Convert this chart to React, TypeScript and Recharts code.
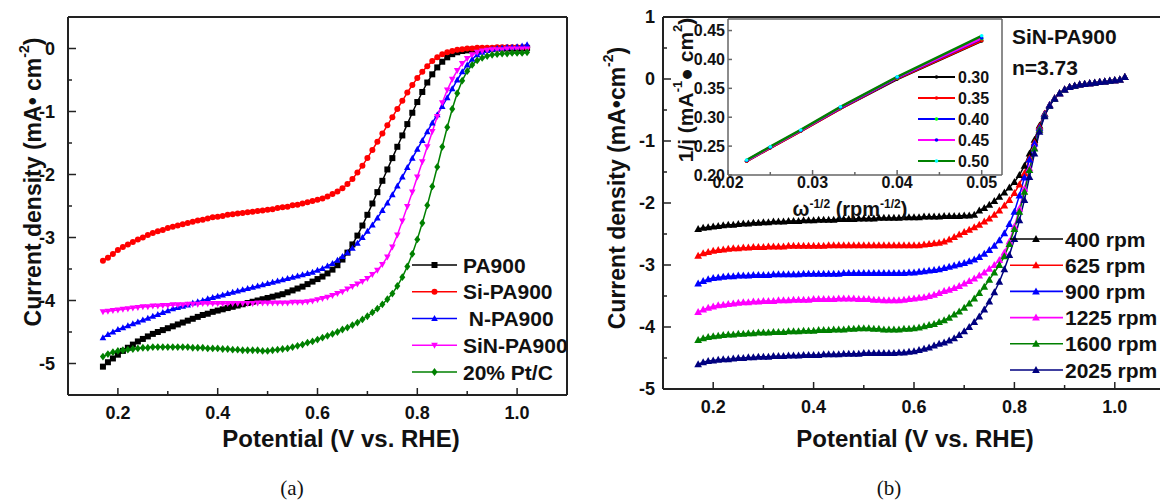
import React from 'react';
import { LineChart, Line, XAxis, YAxis, ReferenceLine, Legend, Label } from 'recharts';

const FONT = '"Liberation Sans", Arial, Helvetica, sans-serif';
const SERIF = '"Liberation Serif", "Times New Roman", serif';

// ---------------- Panel (a): LSV curves ----------------
const potential = [
  0.17, 0.18, 0.19, 0.20, 0.21, 0.22, 0.23, 0.24, 0.25, 0.26,
  0.27, 0.28, 0.29, 0.30, 0.31, 0.32, 0.33, 0.34, 0.35, 0.36,
  0.37, 0.38, 0.39, 0.40, 0.41, 0.42, 0.43, 0.44, 0.45, 0.46,
  0.47, 0.48, 0.49, 0.50, 0.51, 0.52, 0.53, 0.54, 0.55, 0.56,
  0.57, 0.58, 0.59, 0.60, 0.61, 0.62, 0.63, 0.64, 0.65, 0.66,
  0.67, 0.68, 0.69, 0.70, 0.71, 0.72, 0.73, 0.74, 0.75, 0.76,
  0.77, 0.78, 0.79, 0.80, 0.81, 0.82, 0.83, 0.84, 0.85, 0.86,
  0.87, 0.88, 0.89, 0.90, 0.91, 0.92, 0.93, 0.94, 0.95, 0.96,
  0.97, 0.98, 0.99, 1.00, 1.01, 1.02,
];

const pa900 = [
  -5.05, -4.98, -4.92, -4.86, -4.80, -4.75, -4.70, -4.65, -4.61, -4.57,
  -4.53, -4.50, -4.47, -4.44, -4.41, -4.38, -4.35, -4.32, -4.29, -4.26,
  -4.23, -4.21, -4.18, -4.16, -4.14, -4.12, -4.10, -4.08, -4.06, -4.04,
  -4.02, -4.00, -3.98, -3.96, -3.94, -3.92, -3.90, -3.87, -3.84, -3.81,
  -3.78, -3.74, -3.70, -3.66, -3.62, -3.57, -3.51, -3.44, -3.35, -3.24,
  -3.11, -2.97, -2.81, -2.64, -2.46, -2.28, -2.10, -1.92, -1.74, -1.56,
  -1.38, -1.20, -1.02, -0.85, -0.69, -0.54, -0.41, -0.30, -0.21, -0.14,
  -0.09, -0.06, -0.04, -0.03, -0.02, -0.02, -0.01, -0.01, -0.01, 0.00,
  0.00, 0.00, 0.00, 0.00, 0.00, 0.01,
];

const siPa900 = [
  -3.37, -3.32, -3.26, -3.20, -3.15, -3.11, -3.07, -3.03, -3.00, -2.96,
  -2.93, -2.90, -2.88, -2.85, -2.83, -2.81, -2.79, -2.77, -2.75, -2.73,
  -2.72, -2.70, -2.68, -2.67, -2.66, -2.64, -2.63, -2.62, -2.61, -2.60,
  -2.59, -2.58, -2.57, -2.56, -2.55, -2.53, -2.52, -2.51, -2.49, -2.48,
  -2.46, -2.44, -2.42, -2.40, -2.38, -2.35, -2.31, -2.27, -2.22, -2.15,
  -2.07, -1.97, -1.86, -1.74, -1.61, -1.48, -1.35, -1.22, -1.09, -0.96,
  -0.83, -0.70, -0.58, -0.47, -0.37, -0.28, -0.20, -0.14, -0.09, -0.06,
  -0.04, -0.02, -0.01, 0.00, 0.00, 0.01, 0.01, 0.01, 0.01, 0.02,
  0.02, 0.02, 0.02, 0.02, 0.02, 0.02,
];

const nPa900 = [
  -4.59, -4.54, -4.50, -4.46, -4.43, -4.40, -4.37, -4.34, -4.31, -4.28,
  -4.25, -4.22, -4.19, -4.16, -4.13, -4.11, -4.09, -4.07, -4.04, -4.02,
  -4.00, -3.97, -3.95, -3.93, -3.91, -3.89, -3.87, -3.85, -3.83, -3.81,
  -3.79, -3.77, -3.75, -3.73, -3.71, -3.69, -3.67, -3.65, -3.63, -3.61,
  -3.59, -3.57, -3.55, -3.52, -3.49, -3.45, -3.41, -3.36, -3.30, -3.24,
  -3.17, -3.09, -3.00, -2.90, -2.80, -2.69, -2.57, -2.45, -2.32, -2.18,
  -2.04, -1.89, -1.74, -1.60, -1.46, -1.32, -1.18, -1.05, -0.92, -0.78,
  -0.64, -0.50, -0.37, -0.26, -0.17, -0.10, -0.06, -0.03, -0.01, 0.00,
  0.01, 0.02, 0.02, 0.03, 0.04, 0.06,
];

const sinPa900 = [
  -4.18, -4.17, -4.16, -4.15, -4.14, -4.13, -4.12, -4.11, -4.10, -4.10,
  -4.09, -4.09, -4.08, -4.08, -4.07, -4.07, -4.07, -4.06, -4.06, -4.06,
  -4.05, -4.05, -4.05, -4.05, -4.05, -4.05, -4.05, -4.05, -4.05, -4.05,
  -4.05, -4.04, -4.04, -4.04, -4.04, -4.04, -4.04, -4.04, -4.03, -4.03,
  -4.03, -4.02, -4.01, -3.99, -3.97, -3.95, -3.92, -3.89, -3.86, -3.82,
  -3.78, -3.74, -3.70, -3.65, -3.59, -3.52, -3.43, -3.31, -3.15, -2.96,
  -2.74, -2.51, -2.28, -2.04, -1.80, -1.56, -1.32, -1.08, -0.86, -0.66,
  -0.49, -0.35, -0.24, -0.16, -0.10, -0.06, -0.04, -0.03, -0.02, -0.02,
  -0.02, -0.01, -0.01, -0.01, -0.01, -0.01,
];

const ptC = [
  -4.89, -4.85, -4.82, -4.80, -4.79, -4.78, -4.77, -4.76, -4.75, -4.75,
  -4.74, -4.74, -4.74, -4.74, -4.74, -4.74, -4.74, -4.74, -4.75, -4.75,
  -4.75, -4.76, -4.76, -4.76, -4.77, -4.77, -4.78, -4.78, -4.79, -4.79,
  -4.79, -4.79, -4.80, -4.80, -4.79, -4.78, -4.77, -4.76, -4.74, -4.72,
  -4.70, -4.67, -4.65, -4.62, -4.59, -4.56, -4.53, -4.50, -4.46, -4.43,
  -4.39, -4.35, -4.30, -4.25, -4.19, -4.13, -4.06, -3.98, -3.89, -3.77,
  -3.63, -3.46, -3.26, -3.03, -2.77, -2.49, -2.19, -1.88, -1.56, -1.25,
  -0.96, -0.71, -0.51, -0.36, -0.26, -0.19, -0.15, -0.12, -0.10, -0.09,
  -0.08, -0.08, -0.07, -0.07, -0.07, -0.06,
];

// ---------------- Panel (b): rotation-rate LSV curves ----------------
const rpm400 = [
  -2.42, -2.40, -2.39, -2.38, -2.37, -2.36, -2.35, -2.35, -2.34, -2.33,
  -2.33, -2.32, -2.32, -2.31, -2.31, -2.30, -2.30, -2.30, -2.29, -2.29,
  -2.29, -2.28, -2.28, -2.28, -2.27, -2.27, -2.27, -2.27, -2.26, -2.26,
  -2.26, -2.26, -2.25, -2.25, -2.25, -2.25, -2.24, -2.24, -2.24, -2.24,
  -2.24, -2.23, -2.23, -2.23, -2.23, -2.22, -2.22, -2.22, -2.22, -2.21,
  -2.21, -2.21, -2.21, -2.20, -2.20, -2.19, -2.12, -2.08, -2.03, -1.97,
  -1.90, -1.83, -1.75, -1.66, -1.55, -1.40, -1.20, -0.98, -0.75, -0.56,
  -0.42, -0.31, -0.23, -0.17, -0.13, -0.11, -0.09, -0.08, -0.07, -0.06,
  -0.05, -0.04, -0.03, -0.02, -0.01, 0.03,
];

const rpm625 = [
  -2.85, -2.81, -2.79, -2.77, -2.76, -2.75, -2.74, -2.73, -2.73, -2.72,
  -2.72, -2.71, -2.71, -2.71, -2.70, -2.70, -2.70, -2.70, -2.69, -2.69,
  -2.69, -2.69, -2.69, -2.69, -2.69, -2.69, -2.68, -2.68, -2.68, -2.68,
  -2.68, -2.68, -2.68, -2.68, -2.68, -2.68, -2.68, -2.68, -2.68, -2.68,
  -2.68, -2.68, -2.68, -2.68, -2.68, -2.67, -2.66, -2.65, -2.64, -2.62,
  -2.59, -2.55, -2.51, -2.47, -2.43, -2.39, -2.35, -2.30, -2.25, -2.19,
  -2.12, -2.04, -1.95, -1.84, -1.70, -1.52, -1.28, -1.02, -0.77, -0.56,
  -0.42, -0.31, -0.23, -0.17, -0.13, -0.11, -0.09, -0.08, -0.07, -0.06,
  -0.05, -0.04, -0.03, -0.02, -0.01, 0.03,
];

const rpm900 = [
  -3.30, -3.26, -3.23, -3.21, -3.20, -3.19, -3.18, -3.18, -3.17, -3.17,
  -3.17, -3.16, -3.16, -3.16, -3.16, -3.15, -3.15, -3.15, -3.15, -3.15,
  -3.15, -3.14, -3.14, -3.14, -3.14, -3.14, -3.14, -3.14, -3.14, -3.13,
  -3.13, -3.13, -3.13, -3.13, -3.13, -3.13, -3.13, -3.13, -3.13, -3.13,
  -3.13, -3.13, -3.12, -3.12, -3.11, -3.10, -3.09, -3.08, -3.07, -3.05,
  -3.03, -3.01, -2.99, -2.97, -2.94, -2.91, -2.87, -2.82, -2.76, -2.69,
  -2.60, -2.49, -2.34, -2.14, -1.88, -1.59, -1.30, -1.04, -0.79, -0.57,
  -0.42, -0.31, -0.23, -0.17, -0.13, -0.11, -0.09, -0.08, -0.07, -0.06,
  -0.05, -0.04, -0.03, -0.02, -0.01, 0.03,
];

const rpm1225 = [
  -3.76, -3.72, -3.69, -3.67, -3.65, -3.64, -3.63, -3.62, -3.61, -3.60,
  -3.60, -3.59, -3.59, -3.58, -3.58, -3.58, -3.57, -3.57, -3.57, -3.56,
  -3.56, -3.56, -3.56, -3.55, -3.55, -3.55, -3.55, -3.55, -3.54, -3.54,
  -3.54, -3.54, -3.55, -3.55, -3.55, -3.56, -3.56, -3.57, -3.57, -3.57,
  -3.57, -3.56, -3.55, -3.54, -3.53, -3.52, -3.50, -3.48, -3.45, -3.42,
  -3.40, -3.37, -3.34, -3.30, -3.26, -3.22, -3.17, -3.12, -3.06, -3.00,
  -2.92, -2.80, -2.62, -2.38, -2.09, -1.77, -1.44, -1.11, -0.82, -0.59,
  -0.43, -0.32, -0.23, -0.17, -0.13, -0.11, -0.09, -0.08, -0.07, -0.06,
  -0.05, -0.04, -0.03, -0.02, -0.01, 0.03,
];

const rpm1600 = [
  -4.21, -4.18, -4.16, -4.15, -4.14, -4.13, -4.12, -4.12, -4.11, -4.11,
  -4.10, -4.10, -4.09, -4.09, -4.09, -4.08, -4.08, -4.08, -4.07, -4.07,
  -4.07, -4.06, -4.06, -4.06, -4.05, -4.05, -4.05, -4.04, -4.04, -4.04,
  -4.03, -4.03, -4.02, -4.02, -4.02, -4.03, -4.03, -4.04, -4.04, -4.04,
  -4.04, -4.03, -4.03, -4.02, -4.01, -3.99, -3.97, -3.95, -3.92, -3.89,
  -3.85, -3.80, -3.75, -3.69, -3.62, -3.54, -3.45, -3.35, -3.24, -3.12,
  -3.00, -2.86, -2.66, -2.42, -2.14, -1.82, -1.47, -1.12, -0.82, -0.59,
  -0.43, -0.32, -0.23, -0.17, -0.13, -0.11, -0.09, -0.08, -0.07, -0.06,
  -0.05, -0.04, -0.03, -0.02, -0.01, 0.03,
];

const rpm2025 = [
  -4.60, -4.57, -4.55, -4.54, -4.53, -4.52, -4.52, -4.51, -4.50, -4.50,
  -4.49, -4.49, -4.48, -4.48, -4.48, -4.47, -4.47, -4.47, -4.46, -4.46,
  -4.46, -4.45, -4.45, -4.45, -4.45, -4.44, -4.44, -4.44, -4.44, -4.43,
  -4.43, -4.43, -4.43, -4.42, -4.42, -4.42, -4.42, -4.42, -4.42, -4.42,
  -4.41, -4.41, -4.40, -4.39, -4.37, -4.35, -4.33, -4.30, -4.27, -4.25,
  -4.22, -4.18, -4.13, -4.07, -4.00, -3.92, -3.83, -3.72, -3.59, -3.44,
  -3.27, -3.07, -2.84, -2.58, -2.28, -1.95, -1.58, -1.20, -0.85, -0.60,
  -0.43, -0.32, -0.23, -0.17, -0.13, -0.11, -0.09, -0.08, -0.07, -0.06,
  -0.05, -0.04, -0.03, -0.02, -0.01, 0.03,
];

// ---------------- Inset: Koutecky-Levich ----------------
const omegaInv = [0.0222, 0.025, 0.0286, 0.0333, 0.04, 0.05];
const kl030 = [0.224, 0.247, 0.276, 0.315, 0.366, 0.432];
const kl035 = [0.224, 0.247, 0.276, 0.315, 0.367, 0.433];
const kl040 = [0.225, 0.248, 0.277, 0.316, 0.368, 0.436];
const kl045 = [0.225, 0.248, 0.277, 0.317, 0.369, 0.437];
const kl050 = [0.226, 0.249, 0.278, 0.318, 0.370, 0.441];

// ---------------- Ticks ----------------
const mainXTicks = [0.2, 0.3, 0.4, 0.5, 0.6, 0.7, 0.8, 0.9, 1.0];
const mainXLabels = [0.2, 0.4, 0.6, 0.8, 1.0];
const yTicksA = [-5, -4.5, -4, -3.5, -3, -2.5, -2, -1.5, -1, -0.5, 0];
const yLabelsA = [-5, -4, -3, -2, -1, 0];
const yTicksB = [-5, -4.5, -4, -3.5, -3, -2.5, -2, -1.5, -1, -0.5, 0, 0.5, 1];
const yLabelsB = [-5, -4, -3, -2, -1, 0, 1];
const insetXTicks = [0.02, 0.025, 0.03, 0.035, 0.04, 0.045, 0.05];
const insetXLabels = [0.02, 0.03, 0.04, 0.05];
const insetYTicks = [0.2, 0.25, 0.3, 0.35, 0.4, 0.45];

// ---------------- Series meta ----------------
const seriesA = [
  { key: 'PA900', name: 'PA900', color: '#000000', shape: 'square' },
  { key: 'SiPA900', name: 'Si-PA900', color: '#ff0000', shape: 'circle' },
  { key: 'NPA900', name: ' N-PA900', color: '#0000ff', shape: 'triUp' },
  { key: 'SiNPA900', name: 'SiN-PA900', color: '#ff00ff', shape: 'triDown' },
  { key: 'PtC', name: '20% Pt/C', color: '#008000', shape: 'diamond' },
];
const seriesB = [
  { key: 'r400', name: '400 rpm', color: '#000000' },
  { key: 'r625', name: '625 rpm', color: '#ff0000' },
  { key: 'r900', name: '900 rpm', color: '#0000ff' },
  { key: 'r1225', name: '1225 rpm', color: '#ff00ff' },
  { key: 'r1600', name: '1600 rpm', color: '#008000' },
  { key: 'r2025', name: '2025 rpm', color: '#000080' },
];
const seriesInset = [
  { key: 'p30', name: '0.30', color: '#000000', mark: '#000000' },
  { key: 'p35', name: '0.35', color: '#ff0000', mark: '#ff0000' },
  { key: 'p40', name: '0.40', color: '#0000ff', mark: '#00ff00' },
  { key: 'p45', name: '0.45', color: '#ff00ff', mark: '#0000ff' },
  { key: 'p50', name: '0.50', color: '#008000', mark: '#00ffff' },
];

const dataA = potential.map((v, i) => ({
  v, PA900: pa900[i], SiPA900: siPa900[i], NPA900: nPa900[i], SiNPA900: sinPa900[i], PtC: ptC[i],
}));
const dataB = potential.map((v, i) => ({
  v, r400: rpm400[i], r625: rpm625[i], r900: rpm900[i], r1225: rpm1225[i], r1600: rpm1600[i], r2025: rpm2025[i],
}));
const dataInset = omegaInv.map((w, i) => ({
  w, p30: kl030[i], p35: kl035[i], p40: kl040[i], p45: kl045[i], p50: kl050[i],
}));

// ---------------- Helpers ----------------
function Marker({ shape, cx, cy, size, fill }: any) {
  const h = size / 2;
  switch (shape) {
    case 'square':
      return <rect x={cx - h} y={cy - h} width={size} height={size} fill={fill} />;
    case 'circle':
      return <circle cx={cx} cy={cy} r={h} fill={fill} />;
    case 'triUp':
      return <polygon points={`${cx},${cy - h * 1.15} ${cx - h * 1.1},${cy + h * 0.85} ${cx + h * 1.1},${cy + h * 0.85}`} fill={fill} />;
    case 'triDown':
      return <polygon points={`${cx},${cy + h * 1.15} ${cx - h * 1.1},${cy - h * 0.85} ${cx + h * 1.1},${cy - h * 0.85}`} fill={fill} />;
    case 'diamond':
      return <polygon points={`${cx},${cy - h * 1.3} ${cx + h},${cy} ${cx},${cy + h * 1.3} ${cx - h},${cy}`} fill={fill} />;
    default:
      return <circle cx={cx} cy={cy} r={h} fill={fill} />;
  }
}

const makeDot = (shape: string, fill: string, size: number) => (p: any) => {
  if (p.cx == null || p.cy == null) return <g key={`e-${p.index}`} />;
  return <Marker key={`m-${p.index}`} shape={shape} cx={p.cx} cy={p.cy} size={size} fill={fill} />;
};

const isIn = (arr: number[], v: number) => arr.some((a) => Math.abs(a - v) < 1e-9);

const makeXTick = (labels: number[], digits: number, maj: number, min: number, dy: number, fs: number, color: string) =>
  (props: any) => {
    const { x, y, payload } = props;
    const v = payload.value;
    const major = isIn(labels, v);
    return (
      <g>
        <line x1={x} x2={x} y1={y} y2={y - (major ? maj : min)} stroke={color} strokeWidth={1.5} />
        {major && (
          <text x={x} y={y + dy} textAnchor="middle" fontSize={fs} fontWeight="bold" fontFamily={FONT} fill="#111">
            {v.toFixed(digits)}
          </text>
        )}
      </g>
    );
  };

const makeYTick = (labels: number[], fmt: (v: number) => string, maj: number, min: number, gap: number, fs: number, color: string) =>
  (props: any) => {
    const { x, y, payload } = props;
    const v = payload.value;
    const major = isIn(labels, v);
    return (
      <g>
        <line x1={x} x2={x + (major ? maj : min)} y1={y} y2={y} stroke={color} strokeWidth={1.5} />
        {major && (
          <text x={x - gap} y={y + fs * 0.36} textAnchor="end" fontSize={fs} fontWeight="bold" fontFamily={FONT} fill="#111">
            {fmt(v)}
          </text>
        )}
      </g>
    );
  };

const intFmt = (v: number) => String(Math.round(v));

// ---------------- Legends ----------------
const legendA = () => (
  <svg width={175} height={140} style={{ overflow: 'visible' }}>
    {seriesA.map((s, i) => {
      const y = 13 + i * 26.75;
      return (
        <g key={s.key}>
          <line x1={7} x2={52} y1={y} y2={y} stroke={s.color} strokeWidth={1.6} />
          <Marker shape={s.shape} cx={29.5} cy={y} size={6} fill={s.color} />
          <text x={58} y={y + 7.5} fontSize={21} fontWeight="bold" fontFamily={FONT} fill="#111" xmlSpace="preserve" style={{ whiteSpace: 'pre' }}>
            {s.name}
          </text>
        </g>
      );
    })}
  </svg>
);

const legendB = () => (
  <svg width={170} height={160} style={{ overflow: 'visible' }}>
    {seriesB.map((s, i) => {
      const y = 13 + i * 26.2;
      return (
        <g key={s.key}>
          <line x1={5} x2={58} y1={y} y2={y} stroke={s.color} strokeWidth={1.6} />
          <Marker shape="triUp" cx={31} cy={y} size={7} fill={s.color} />
          <text x={60} y={y + 7.5} fontSize={21} fontWeight="bold" fontFamily={FONT} fill="#111">
            {s.name}
          </text>
        </g>
      );
    })}
  </svg>
);

const legendInset = () => (
  <svg width={90} height={110} style={{ overflow: 'visible' }}>
    {seriesInset.map((s, i) => {
      const y = 11 + i * 21;
      return (
        <g key={s.key}>
          <line x1={6} x2={43} y1={y} y2={y} stroke={s.color} strokeWidth={2.2} />
          <circle cx={24.5} cy={y} r={1.8} fill={s.mark} />
          <text x={46} y={y + 6} fontSize={16} fontWeight="bold" fontFamily={FONT} fill="#111">
            {s.name}
          </text>
        </g>
      );
    })}
  </svg>
);

// ---------------- Panels ----------------
function PanelA() {
  return (
    <LineChart width={600} height={501} data={dataA} margin={{ top: 17, right: 33, bottom: 0, left: 0 }}>
      <XAxis
        dataKey="v" type="number" domain={[0.1, 1.1]} ticks={mainXTicks} interval={0}
        tickSize={0} tickMargin={0} tickLine={false} height={106} allowDataOverflow
        axisLine={{ stroke: '#222', strokeWidth: 2 }}
        tick={makeXTick(mainXLabels, 1, 7, 4, 24, 18, '#222')}
      >
        <Label
          value="Potential (V vs. RHE)"
          content={() => (
            <text x={341} y={447} textAnchor="middle" fontSize={24} fontWeight="bold" fontFamily={FONT} fill="#111">
              Potential (V vs. RHE)
            </text>
          )}
        />
      </XAxis>
      <YAxis
        type="number" domain={[-5.5, 0.5]} ticks={yTicksA} interval={0}
        tickSize={0} tickMargin={0} tickLine={false} width={68} allowDataOverflow
        axisLine={{ stroke: '#222', strokeWidth: 2 }}
        tick={makeYTick(yLabelsA, intFmt, 8, 4, 13, 18, '#222')}
      >
        <Label
          value="Current density"
          content={() => (
            <text x={33} y={182} transform="rotate(-90 33 182)" textAnchor="middle" dominantBaseline="central"
              fontSize={23} fontWeight="bold" fontFamily={FONT} fill="#111">
              Current density (mA• cm<tspan dy={-9} fontSize={14}>-2</tspan><tspan dy={9}>)</tspan>
            </text>
          )}
        />
      </YAxis>
      <ReferenceLine y={0.5} stroke="#222" strokeWidth={2} />
      <ReferenceLine x={1.1} stroke="#222" strokeWidth={2} />
      {seriesA.map((s) => (
        <Line
          key={s.key} type="linear" dataKey={s.key} name={s.name} stroke={s.color} strokeWidth={1.5}
          dot={makeDot(s.shape, s.color, 6)} activeDot={false} isAnimationActive={false}
        />
      ))}
      <Legend
        layout="vertical" align="center" verticalAlign="middle"
        wrapperStyle={{ position: 'absolute', left: 405, top: 252, width: 175, height: 140 }}
        content={legendA}
      />
    </LineChart>
  );
}

function PanelB() {
  return (
    <LineChart width={600} height={501} data={dataB} margin={{ top: 17, right: 15, bottom: 0, left: 0 }}>
      <XAxis
        dataKey="v" type="number" domain={[0.1, 1.1]} ticks={mainXTicks} interval={0}
        tickSize={0} tickMargin={0} tickLine={false} height={112} allowDataOverflow
        axisLine={{ stroke: '#222', strokeWidth: 2 }}
        tick={makeXTick(mainXLabels, 1, 7, 4, 24, 18, '#222')}
      >
        <Label
          value="Potential (V vs. RHE)"
          content={() => (
            <text x={335} y={447} textAnchor="middle" fontSize={24} fontWeight="bold" fontFamily={FONT} fill="#111">
              Potential (V vs. RHE)
            </text>
          )}
        />
      </XAxis>
      <YAxis
        type="number" domain={[-5, 1]} ticks={yTicksB} interval={0}
        tickSize={0} tickMargin={0} tickLine={false} width={83} allowDataOverflow
        axisLine={{ stroke: '#222', strokeWidth: 2 }}
        tick={makeYTick(yLabelsB, intFmt, 8, 4, 8, 18, '#222')}
      >
        <Label
          value="Current density"
          content={() => (
            <text x={37} y={188} transform="rotate(-90 37 188)" textAnchor="middle" dominantBaseline="central"
              fontSize={23} fontWeight="bold" fontFamily={FONT} fill="#111">
              Current density (mA•cm<tspan dy={-9} fontSize={14}>-2</tspan><tspan dy={9}>)</tspan>
            </text>
          )}
        />
      </YAxis>
      <ReferenceLine y={1} stroke="#222" strokeWidth={2} />
      <ReferenceLine x={1.1} stroke="#222" strokeWidth={2} />
      {seriesB.map((s) => (
        <Line
          key={s.key} type="linear" dataKey={s.key} name={s.name} stroke={s.color} strokeWidth={1.5}
          dot={makeDot('triUp', s.color, 7)} activeDot={false} isAnimationActive={false}
        />
      ))}
      <Legend
        layout="vertical" align="center" verticalAlign="middle"
        wrapperStyle={{ position: 'absolute', left: 425, top: 226, width: 170, height: 160 }}
        content={legendB}
      />
    </LineChart>
  );
}

function Inset() {
  return (
    <LineChart width={380} height={240} data={dataInset} margin={{ top: 19, right: 18, bottom: 0, left: 0 }}>
      <XAxis
        dataKey="w" type="number" domain={[0.02, 0.0524]} ticks={insetXTicks} interval={0}
        tickSize={0} tickMargin={0} tickLine={false} height={65} allowDataOverflow
        axisLine={{ stroke: '#666', strokeWidth: 1.5 }}
        tick={makeXTick(insetXLabels, 2, 5, 3, 13, 16, '#666')}
      >
        <Label
          value="omega"
          content={() => (
            <text x={210} y={216} textAnchor="middle" fontSize={20} fontWeight="bold" fontFamily={FONT} fill="#111">
              ω<tspan dy={-8} fontSize={12}>-1/2</tspan><tspan dy={8}> (rpm</tspan><tspan dy={-8} fontSize={12}>-1/2</tspan><tspan dy={8}>)</tspan>
            </text>
          )}
        />
      </XAxis>
      <YAxis
        type="number" domain={[0.2, 0.47]} ticks={insetYTicks} interval={0}
        tickSize={0} tickMargin={0} tickLine={false} width={88} allowDataOverflow
        axisLine={{ stroke: '#666', strokeWidth: 1.5 }}
        tick={makeYTick(insetYTicks, (v) => v.toFixed(2), 4, 2, 3, 16, '#666')}
      >
        <Label
          value="1/j"
          content={() => (
            <text x={45} y={90} transform="rotate(-90 45 90)" textAnchor="middle" dominantBaseline="central"
              fontSize={21} fontWeight="bold" fontFamily={FONT} fill="#111">
              1/j (mA<tspan dy={-8} fontSize={13}>-1</tspan><tspan dy={8}>● cm</tspan><tspan dy={-8} fontSize={13}>2</tspan><tspan dy={8}>)</tspan>
            </text>
          )}
        />
      </YAxis>
      <ReferenceLine y={0.47} stroke="#666" strokeWidth={1.5} />
      <ReferenceLine x={0.0524} stroke="#666" strokeWidth={1.5} />
      {seriesInset.map((s) => (
        <Line
          key={s.key} type="linear" dataKey={s.key} name={s.name} stroke={s.color} strokeWidth={2.5}
          dot={makeDot('circle', s.mark, 3.6)} activeDot={false} isAnimationActive={false}
        />
      ))}
      <Legend
        layout="vertical" align="center" verticalAlign="middle"
        wrapperStyle={{ position: 'absolute', left: 272, top: 66, width: 90, height: 110 }}
        content={legendInset}
      />
    </LineChart>
  );
}

const annot: React.CSSProperties = {
  position: 'absolute', fontFamily: FONT, fontWeight: 'bold', fontSize: 21, lineHeight: '22px', color: '#111', whiteSpace: 'nowrap',
};
const caption: React.CSSProperties = {
  position: 'absolute', fontFamily: SERIF, fontSize: 21, lineHeight: '22px', color: '#111', width: 60, textAlign: 'center',
};

export default function App() {
  return (
    <div style={{ position: 'absolute', left: 0, top: 0, width: 1160, height: 501, overflow: 'hidden', background: '#fff' }}>
      <div style={{ position: 'absolute', left: 0, top: 0 }}>
        <PanelA />
      </div>
      <div style={{ position: 'absolute', left: 580, top: 0 }}>
        <PanelB />
      </div>
      <div style={{ position: 'absolute', left: 640, top: 0 }}>
        <Inset />
      </div>
      <div style={{ ...annot, left: 1012, top: 26 }}>SiN-PA900</div>
      <div style={{ ...annot, left: 1012, top: 57 }}>n=3.73</div>
      <div style={{ ...caption, left: 262, top: 477 }}>(a)</div>
      <div style={{ ...caption, left: 859, top: 477 }}>(b)</div>
    </div>
  );
}
